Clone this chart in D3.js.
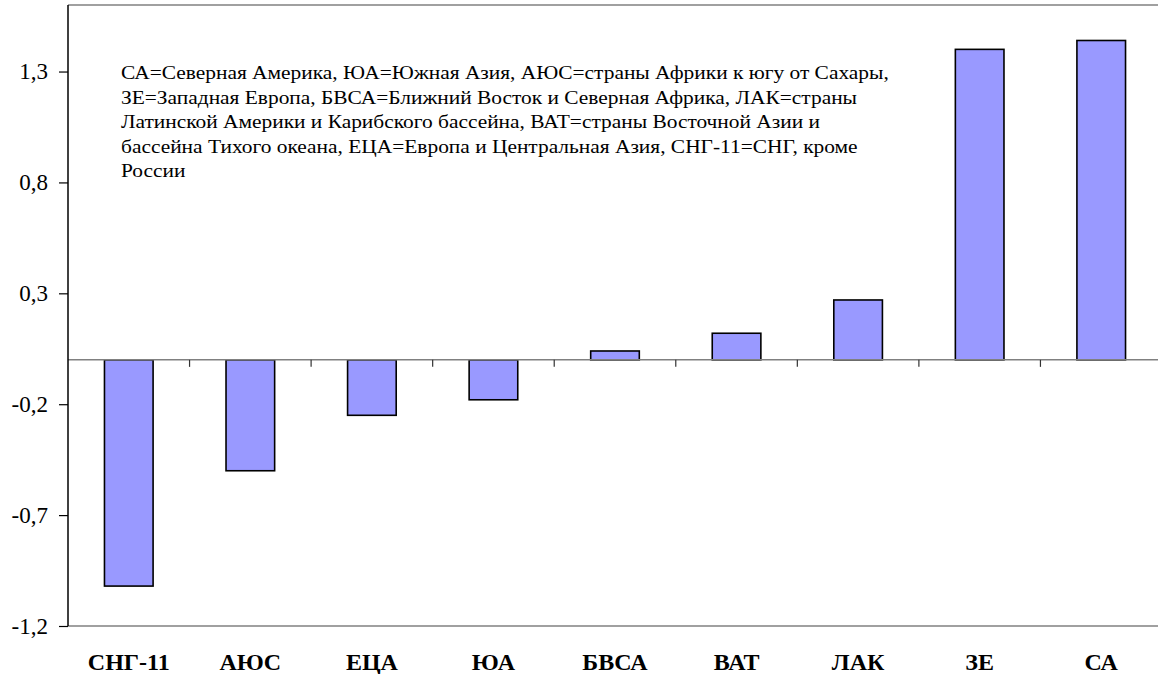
<!DOCTYPE html>
<html>
<head>
<meta charset="utf-8">
<script src="https://cdn.jsdelivr.net/npm/d3@7"></script>
</head>
<body style="margin:0">
<svg id="chart" width="1158" height="674"></svg>
<script>
// Regions and their values
const categories = ["СНГ-11", "АЮС", "ЕЦА", "ЮА", "БВСА", "ВАТ", "ЛАК", "ЗЕ", "СА"];
const values = [-1.02, -0.50, -0.25, -0.18, 0.04, 0.12, 0.27, 1.40, 1.44];
const yTicks = [-1.2, -0.7, -0.2, 0.3, 0.8, 1.3];
const noteLines = [
  "СА=Северная Америка, ЮА=Южная Азия, АЮС=страны Африки к югу от Сахары,",
  "ЗЕ=Западная Европа, БВСА=Ближний Восток и Северная Африка, ЛАК=страны",
  "Латинской Америки и Карибского бассейна, ВАТ=страны Восточной Азии и",
  "бассейна Тихого океана, ЕЦА=Европа и Центральная Азия, СНГ-11=СНГ, кроме",
  "России"
];

const fontName = "Times New Roman";
const FONT = `"${fontName}"`;
const svg = d3.select("#chart").style("font-family", FONT);
const plot = { left: 68, right: 1162, top: 5, bottom: 626 };

const x = d3.scaleBand()
  .domain(categories)
  .range([plot.left, plot.right])
  .paddingInner(0.6)
  .paddingOuter(0.3);

const y = d3.scaleLinear()
  .domain([-1.2, 1.6])
  .range([plot.bottom, plot.top]);

const fmt = v => d3.format(".1f")(v).replace(".", ",").replace("−", "-");

// Plot frame: top and bottom borders
svg.append("line")
  .attr("x1", plot.left).attr("x2", plot.right)
  .attr("y1", plot.top).attr("y2", plot.top)
  .attr("stroke", "#a0a0a0").attr("stroke-width", 2);
svg.append("line")
  .attr("x1", plot.left).attr("x2", plot.right)
  .attr("y1", plot.bottom).attr("y2", plot.bottom)
  .attr("stroke", "#a0a0a0").attr("stroke-width", 2);

// Bars
svg.append("g")
  .selectAll("rect")
  .data(values)
  .join("rect")
  .attr("x", (d, i) => x(categories[i]))
  .attr("width", x.bandwidth())
  .attr("y", d => y(Math.max(0, d)))
  .attr("height", d => Math.abs(y(d) - y(0)))
  .attr("fill", "#9999ff")
  .attr("stroke", "#000")
  .attr("stroke-width", 1.6);

// Category axis along zero
const catTicks = d3.range(1, categories.length).map(i => plot.left + i * (plot.right - plot.left) / categories.length);
svg.append("line")
  .attr("x1", plot.left).attr("x2", plot.right)
  .attr("y1", y(0)).attr("y2", y(0))
  .attr("stroke", "#808080").attr("stroke-width", 1.5);
svg.append("g")
  .selectAll("line")
  .data(catTicks)
  .join("line")
  .attr("x1", d => d).attr("x2", d => d)
  .attr("y1", y(0)).attr("y2", y(0) + 7)
  .attr("stroke", "#333").attr("stroke-width", 1.2);

// Category labels below the plot
svg.append("g")
  .selectAll("text")
  .data(categories)
  .join("text")
  .attr("x", d => x(d) + x.bandwidth() / 2)
  .attr("y", 670)
  .attr("text-anchor", "middle")
  .style("font-family", FONT)
  .style("font-weight", "bold")
  .style("font-size", "24px")
  .text(d => d);

// Value axis
const yAxis = d3.axisLeft(y)
  .tickValues(yTicks)
  .tickSize(9)
  .tickPadding(11)
  .tickFormat(fmt);
const ga = svg.append("g")
  .attr("transform", `translate(${plot.left},0)`)
  .call(yAxis)
  .attr("font-family", fontName);
ga.select(".domain").attr("stroke", "#000").attr("stroke-width", 1.5)
  .attr("d", `M0,${plot.top}V${plot.bottom}`);
ga.selectAll(".tick line").attr("stroke", "#000").attr("stroke-width", 1.2);
ga.selectAll(".tick text")
  .style("font-family", FONT)
  .style("font-size", "23px")
  .attr("fill", "#000");

// Abbreviation note (set slightly wide)
svg.append("g")
  .attr("transform", "translate(121,0) scale(1.19,1)")
  .selectAll("text")
  .data(noteLines)
  .join("text")
  .attr("x", 0)
  .attr("y", (d, i) => 79 + i * 24.6)
  .style("font-family", FONT)
  .style("font-size", "18px")
  .attr("fill", "#000")
  .text(d => d);
</script>
</body>
</html>
